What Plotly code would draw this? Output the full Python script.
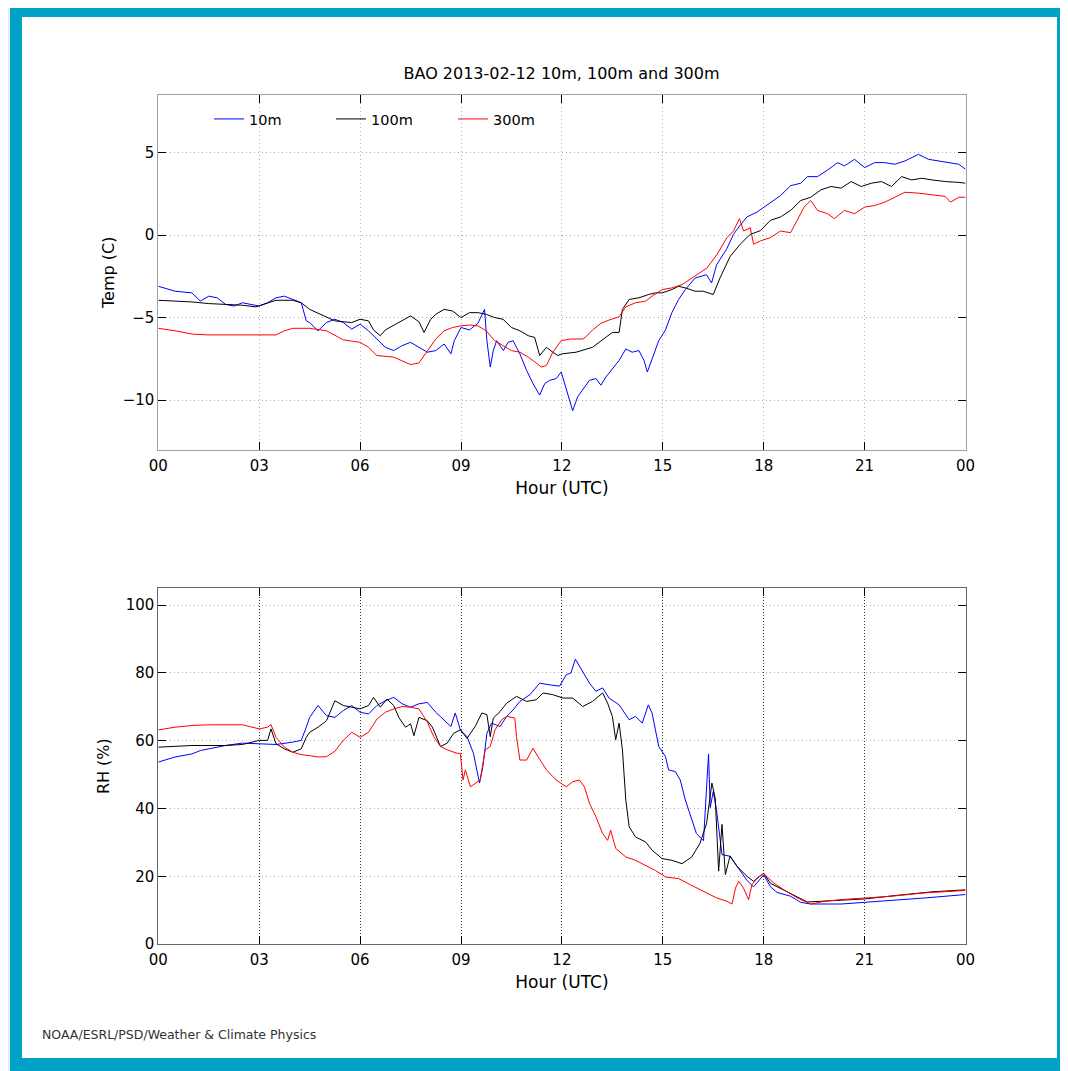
import plotly.graph_objects as go

# ---------------- data ----------------
hours_t10 = [0, 0.5, 1, 1.25, 1.5, 1.75, 2, 2.25, 2.5, 2.75, 3, 3.25, 3.5, 3.75, 4, 4.25, 4.4, 4.5, 4.75, 5,
             5.25, 5.5, 5.75, 6, 6.25, 6.5, 6.75, 7, 7.25, 7.5, 7.75, 8, 8.25, 8.5, 8.7, 8.8, 9, 9.25, 9.5, 9.7,
             9.77, 9.87, 9.96, 10.06, 10.26, 10.4, 10.55, 10.75, 10.95, 11.14, 11.34, 11.49, 11.64, 11.83, 11.98,
             12.08, 12.18, 12.32, 12.47, 12.62, 12.82, 13.01, 13.16, 13.31, 13.5, 13.7, 13.9, 14.09, 14.29, 14.44,
             14.54, 14.68, 14.88, 15.08, 15.27, 15.47, 15.67, 15.96, 16.3, 16.45, 16.6, 16.91, 17.1, 17.3, 17.5,
             17.8, 18.0, 18.2, 18.5, 18.8, 19.1, 19.3, 19.6, 19.9, 20.2, 20.4, 20.7, 21.0, 21.3, 21.6, 21.9, 22.2,
             22.6, 22.9, 23.2, 23.5, 23.8, 24]
temp_10m = [-3.1, -3.4, -3.5, -4.0, -3.7, -3.8, -4.2, -4.3, -4.1, -4.2, -4.3, -4.1, -3.8, -3.7, -3.9, -4.1, -5.2,
            -5.3, -5.8, -5.3, -5.1, -5.3, -5.7, -5.4, -5.8, -6.3, -6.8, -7.0, -6.7, -6.5, -6.8, -7.1, -7.0, -6.6,
            -7.2, -6.4, -5.6, -5.75, -5.35, -4.5, -6.4, -8.0, -7.0, -6.4, -7.0, -6.5, -6.4, -7.2, -8.2, -9.0, -9.7,
            -9.0, -8.8, -8.7, -8.3, -9.0, -9.8, -10.65, -9.8, -9.4, -8.8, -8.7, -9.1, -8.6, -8.1, -7.6, -6.9, -7.1,
            -7.0, -7.6, -8.3, -7.5, -6.4, -5.75, -4.7, -3.9, -3.3, -2.6, -2.4, -2.9, -1.8, -0.8, 0.05, 0.6, 1.1,
            1.4, 1.7, 2.0, 2.4, 3.0, 3.15, 3.55, 3.55, 3.95, 4.4, 4.2, 4.6, 4.1, 4.4, 4.4, 4.3, 4.5, 4.9, 4.6, 4.5,
            4.4, 4.3, 4.0]

hours_t100 = [0, 0.5, 1, 1.5, 2, 2.5, 2.9, 3.25, 3.5, 4, 4.25, 4.5, 4.75, 5, 5.25, 5.5, 5.75, 6, 6.25, 6.4, 6.6,
              6.75, 7, 7.25, 7.5, 7.75, 7.9, 8.1, 8.25, 8.5, 8.75, 9, 9.25, 9.5, 9.75, 10, 10.25, 10.5, 10.75, 11,
              11.19, 11.34, 11.54, 11.73, 11.88, 12.0, 12.42, 12.91, 13.3, 13.5, 13.7, 13.8, 14.0, 14.29, 14.58,
              14.78, 14.98, 15.27, 15.47, 15.67, 15.96, 16.2, 16.5, 16.7, 17.0, 17.3, 17.6, 17.9, 18.2, 18.5, 18.8,
              19.1, 19.4, 19.7, 20.0, 20.3, 20.6, 20.9, 21.2, 21.5, 21.8, 22.1, 22.4, 22.7, 23.0, 23.4, 23.8, 24]
temp_100m = [-3.95, -4.0, -4.05, -4.15, -4.2, -4.25, -4.35, -4.1, -3.95, -3.95, -4.1, -4.5, -4.75, -5.0, -5.2,
             -5.25, -5.3, -5.1, -5.2, -5.75, -6.1, -5.75, -5.45, -5.2, -4.9, -5.25, -5.9, -5.1, -4.8, -4.5, -4.6,
             -5.0, -4.7, -4.7, -4.8, -5.0, -5.1, -5.6, -5.8, -6.1, -6.2, -7.3, -6.8, -7.1, -7.3, -7.2, -7.1, -6.8,
             -6.2, -5.9, -5.9, -4.5, -3.9, -3.8, -3.6, -3.5, -3.5, -3.3, -3.1, -3.2, -3.4, -3.4, -3.6, -2.6, -1.3,
             -0.55, 0.05, 0.27, 0.9, 1.1, 1.5, 2.1, 2.3, 2.75, 2.95, 2.85, 3.25, 2.95, 3.15, 3.25, 2.95, 3.55, 3.35,
             3.45, 3.35, 3.25, 3.2, 3.15]

hours_t300 = [0, 0.5, 1, 1.5, 2, 2.5, 3, 3.5, 3.75, 4, 4.5, 5, 5.5, 6, 6.25, 6.5, 7, 7.25, 7.5, 7.75, 8, 8.25, 8.5,
              8.75, 9, 9.25, 9.5, 9.75, 10, 10.25, 10.5, 10.75, 11, 11.2, 11.39, 11.54, 11.73, 11.98, 12.25, 12.62,
              12.72, 12.91, 13.16, 13.4, 13.7, 13.9, 14.19, 14.49, 14.68, 14.98, 15.27, 15.57, 15.96, 16.31, 16.6,
              16.91, 17.1, 17.28, 17.4, 17.6, 17.7, 17.9, 18.2, 18.5, 18.8, 19.0, 19.2, 19.4, 19.6, 19.9, 20.1,
              20.4, 20.7, 21.0, 21.3, 21.6, 21.9, 22.2, 22.6, 23.0, 23.4, 23.55, 23.8, 24]
temp_300m = [-5.65, -5.8, -6.0, -6.05, -6.05, -6.05, -6.05, -6.05, -5.8, -5.65, -5.65, -5.8, -6.35, -6.5, -6.8,
             -7.3, -7.4, -7.65, -7.85, -7.75, -7.0, -6.3, -5.8, -5.6, -5.5, -5.45, -5.5, -5.8, -6.4, -6.7, -7.0,
             -7.1, -7.4, -7.7, -8.0, -7.9, -7.1, -6.4, -6.3, -6.3, -6.15, -5.75, -5.35, -5.15, -4.95, -4.35, -4.1,
             -4.0, -3.7, -3.3, -3.2, -3.0, -2.5, -2.0, -1.2, -0.15, 0.25, 1.0, 0.25, 0.45, -0.55, -0.35, -0.15, 0.25,
             0.15, 0.9, 1.7, 2.1, 1.5, 1.3, 1.0, 1.5, 1.3, 1.7, 1.8, 2.0, 2.3, 2.6, 2.55, 2.45, 2.35, 2.0, 2.3, 2.3]

hours_rh10 = [0, 0.5, 1, 1.25, 1.5, 2, 2.5, 3, 3.5, 4, 4.25, 4.4, 4.5, 4.75, 5, 5.25, 5.5, 5.75, 6, 6.25, 6.5,
              6.75, 7, 7.25, 7.5, 7.75, 8, 8.25, 8.5, 8.7, 8.83, 8.98, 9.18, 9.37, 9.55, 9.65, 9.77, 9.91, 10.16,
              10.36, 10.55, 10.75, 11.05, 11.34, 11.64, 11.93, 12.13, 12.27, 12.4, 12.62, 12.82, 13.01, 13.21, 13.4,
              13.7, 14.0, 14.19, 14.39, 14.57, 14.68, 14.88, 15.08, 15.17, 15.37, 15.52, 15.67, 15.86, 16.0, 16.21,
              16.3, 16.36, 16.41, 16.5, 16.6, 16.76, 17.0, 17.2, 17.5, 17.7, 18.0, 18.2, 18.4, 18.8, 19.1, 19.4,
              19.8, 20.3, 21.0, 21.8, 22.8, 24]
rh_10m = [53.7, 55.2, 56.1, 57.1, 57.6, 58.6, 59.3, 59.1, 58.9, 59.6, 60.1, 64.0, 66.9, 70.4, 67.4, 66.9, 68.9,
          70.4, 68.4, 67.9, 70.4, 71.8, 72.8, 70.9, 69.9, 70.9, 71.3, 68.4, 65.9, 64.2, 68.2, 63.2, 61.2, 56.3,
          47.5, 52.4, 62.2, 65.2, 64.2, 67.2, 69.1, 71.6, 73.6, 77.0, 76.5, 76.1, 79.5, 80.0, 84.1, 80.5, 77.0,
          74.6, 75.6, 72.6, 70.6, 66.2, 67.2, 65.2, 70.6, 68.2, 58.3, 55.3, 51.4, 50.9, 48.4, 42.5, 36.5, 32.6,
          30.5, 48.0, 56.1, 40.3, 45.0, 39.3, 26.4, 25.9, 23.0, 18.8, 16.9, 20.4, 16.9, 15.2, 14.1, 12.3, 11.8,
          11.8, 11.8, 12.3, 12.8, 13.6, 14.6]

hours_rh100 = [0, 1, 2, 2.5, 3, 3.25, 3.35, 3.5, 3.75, 4, 4.25, 4.4, 4.5, 4.75, 5, 5.25, 5.5, 5.75, 6, 6.25, 6.4,
               6.6, 6.8, 7, 7.15, 7.35, 7.5, 7.6, 7.75, 8, 8.15, 8.39, 8.59, 8.78, 8.98, 9.18, 9.42, 9.62, 9.77,
               9.87, 9.96, 10.16, 10.36, 10.65, 10.95, 11.24, 11.44, 11.73, 12.03, 12.32, 12.62, 12.91, 13.21, 13.36,
               13.5, 13.6, 13.7, 13.8, 13.9, 14.0, 14.19, 14.49, 14.68, 14.98, 15.27, 15.57, 15.86, 16.1, 16.3,
               16.46, 16.56, 16.66, 16.76, 16.86, 17.0, 17.2, 17.5, 17.7, 18.0, 18.2, 18.6, 19.0, 19.3, 20.0, 21.0,
               22.0, 23.0, 24]
rh_100m = [58.1, 58.6, 58.6, 58.9, 60.1, 60.1, 63.5, 59.1, 57.6, 56.6, 57.6, 61.0, 62.5, 64.0, 65.9, 71.8, 70.4,
           69.9, 69.4, 70.4, 72.8, 69.9, 72.3, 70.4, 66.9, 64.0, 65.0, 61.5, 66.9, 65.9, 64.0, 58.3, 59.3, 62.2,
           63.2, 60.7, 64.2, 68.2, 67.7, 61.2, 66.7, 68.6, 71.1, 73.1, 71.6, 72.1, 74.1, 73.6, 72.6, 72.6, 70.1,
           71.6, 74.1, 71.1, 67.2, 60.3, 65.2, 57.3, 42.5, 34.6, 31.6, 30.1, 27.7, 25.2, 24.7, 23.7, 25.7, 29.6,
           35.5, 47.5, 43.0, 21.5, 35.3, 20.5, 26.0, 23.0, 20.0, 18.5, 20.9, 17.9, 16.0, 13.9, 12.4, 12.8, 13.3,
           14.4, 15.4, 16.0]

hours_rh300 = [0, 0.5, 1, 1.5, 2.5, 3, 3.25, 3.35, 3.5, 3.75, 4, 4.25, 4.5, 4.75, 5, 5.25, 5.5, 5.75, 6, 6.25,
               6.5, 6.75, 7, 7.25, 7.5, 7.75, 8, 8.19, 8.39, 8.59, 8.88, 8.98, 9.06, 9.13, 9.28, 9.42, 9.57, 9.72,
               9.87, 10.01, 10.21, 10.36, 10.6, 10.65, 10.75, 10.95, 11.14, 11.29, 11.54, 11.83, 12.13, 12.32,
               12.52, 12.67, 12.82, 13.01, 13.21, 13.36, 13.45, 13.6, 13.9, 14.19, 14.49, 14.78, 15.08, 15.47,
               15.82, 16.21, 16.6, 16.91, 17.06, 17.16, 17.26, 17.4, 17.55, 17.65, 17.8, 18.0, 18.15, 18.3, 18.6,
               19.0, 19.4, 19.8, 20.3, 21.0, 21.8, 22.8, 24]
rh_300m = [63.2, 64.0, 64.5, 64.7, 64.7, 63.5, 64.0, 64.8, 61.0, 58.1, 56.6, 55.9, 55.6, 55.2, 55.3, 56.9, 60.1,
           62.5, 61.0, 62.5, 66.4, 68.4, 69.4, 70.1, 69.9, 69.4, 65.5, 61.2, 58.3, 57.3, 56.3, 56.3, 48.4, 51.4,
           46.4, 47.3, 48.4, 57.3, 58.3, 63.2, 66.2, 67.2, 66.7, 61.2, 54.3, 54.3, 57.8, 55.3, 51.4, 48.4, 46.4,
           47.9, 48.4, 46.4, 41.5, 37.6, 32.6, 30.6, 33.6, 28.2, 25.7, 24.7, 23.2, 21.7, 19.8, 19.3, 17.5, 15.5,
           13.6, 12.6, 11.8, 16.5, 18.5, 16.5, 13.1, 17.5, 19.5, 20.8, 19.5, 18.0, 16.0, 13.6, 11.8, 12.6, 13.1,
           13.6, 14.1, 15.1, 15.8]

series_names = ["10m", "100m", "300m"]
series_colors = ["#0000ff", "#000000", "#ff0000"]
hour_tickvals = [0, 3, 6, 9, 12, 15, 18, 21, 24]
hour_ticktext = ["00", "03", "06", "09", "12", "15", "18", "21", "00"]
temp_tickvals = [-10, -5, 0, 5]
rh_tickvals = [0, 20, 40, 60, 80, 100]
title_text = "BAO 2013-02-12 10m, 100m and 300m"
footer_text = "NOAA/ESRL/PSD/Weather &amp; Climate Physics"

# ---------------- figure ----------------
W, H = 1068, 1071
OX, OY = 8, 8          # page offset of the plot div (browser body margin)
FONT = "DejaVu Sans, Verdana, sans-serif"
TXT = "#000000"

def px_x(p):
    return (p - OX) / W

def px_y(p):
    return 1 - (p - OY) / H

fig = go.Figure()

temp_sets = [(hours_t10, temp_10m), (hours_t100, temp_100m), (hours_t300, temp_300m)]
rh_sets = [(hours_rh10, rh_10m), (hours_rh100, rh_100m), (hours_rh300, rh_300m)]

for (hx, vy), name, col in zip(temp_sets, series_names, series_colors):
    fig.add_trace(go.Scatter(x=hx, y=vy, mode="lines", name=name,
                             line=dict(color=col, width=1), xaxis="x", yaxis="y",
                             legendgroup=name, showlegend=True))
for (hx, vy), name, col in zip(rh_sets, series_names, series_colors):
    fig.add_trace(go.Scatter(x=hx, y=vy, mode="lines", name=name,
                             line=dict(color=col, width=1), xaxis="x2", yaxis="y2",
                             legendgroup=name, showlegend=False))

x_dom = [px_x(158.3), px_x(965.5)]

def xaxis_cfg(anchor, gridcol, linecol, gdash):
    return dict(domain=x_dom, anchor=anchor, range=[0, 24], tickmode="array",
                tickvals=hour_tickvals, ticktext=hour_ticktext, automargin=False,
                showgrid=True, gridcolor=gridcol, griddash=gdash, gridwidth=1,
                showline=True, linecolor=linecol, linewidth=1, mirror="ticks",
                ticks="inside", ticklen=8, tickcolor="#000000", tickwidth=1,
                ticklabelstandoff=2,
                zeroline=False, tickfont=dict(family=FONT, size=15, color=TXT),
                title=dict(text="Hour (UTC)", font=dict(family=FONT, size=17, color=TXT),
                           standoff=8))

def yaxis_cfg(anchor, dom, rng, tv, title, gridcol, linecol, standoff):
    return dict(domain=dom, anchor=anchor, range=rng, tickmode="array", tickvals=tv,
                automargin=False,
                showgrid=True, gridcolor=gridcol, griddash="1px,3px", gridwidth=1,
                showline=True, linecolor=linecol, linewidth=1, mirror="ticks",
                ticks="inside", ticklen=8, tickcolor="#000000", tickwidth=1,
                ticklabelstandoff=0,
                zeroline=False, tickfont=dict(family=FONT, size=15, color=TXT),
                title=dict(text=title, font=dict(family=FONT, size=16, color=TXT),
                           standoff=standoff))

fig.update_layout(
    width=W, height=H, autosize=False,
    margin=dict(l=0, r=0, t=0, b=0, autoexpand=False),
    paper_bgcolor="#ececec", plot_bgcolor="#ffffff",
    font=dict(family=FONT, size=14, color=TXT),
    xaxis=xaxis_cfg("y", "#b0b0b0", "#a0a0a0", "1px,3px"),
    yaxis=yaxis_cfg("x", [px_y(449.5), px_y(95)], [-13, 8.5], temp_tickvals, "Temp (C)",
                    "#b0b0b0", "#a0a0a0", 4),
    xaxis2=xaxis_cfg("y2", "#333333", "#666666", "1px,2px"),
    yaxis2=yaxis_cfg("x2", [px_y(944), px_y(588.3)], [0, 105], rh_tickvals, "RH (%)",
                     "#b0b0b0", "#666666", 12),
    showlegend=True,
    legend=dict(orientation="h", x=px_x(209), y=px_y(119), xanchor="left", yanchor="middle",
                bgcolor="rgba(0,0,0,0)", borderwidth=0, font=dict(family=FONT, size=14.5, color=TXT),
                entrywidth=77, entrywidthmode="pixels", itemwidth=30, tracegroupgap=0),
    title=dict(text=title_text, x=px_x(561.5), xanchor="center", y=px_y(73), yanchor="middle",
               font=dict(family=FONT, size=16, color=TXT)),
    shapes=[
        dict(type="rect", xref="paper", yref="paper", x0=px_x(10), x1=1.01, y0=-0.01, y1=1.01,
             fillcolor="#00a2c7", line=dict(width=0), layer="below"),
        dict(type="rect", xref="paper", yref="paper", x0=px_x(22), x1=px_x(1057), y0=px_y(1058),
             y1=px_y(17), fillcolor="#ffffff", line=dict(width=0), layer="below"),
    ],
    annotations=[
        dict(text=footer_text, xref="paper", yref="paper", x=px_x(40), y=px_y(1034),
             xanchor="left", yanchor="middle", showarrow=False,
             font=dict(family=FONT, size=12.5, color="#333333")),
    ],
)

fig.write_html("out.html")
